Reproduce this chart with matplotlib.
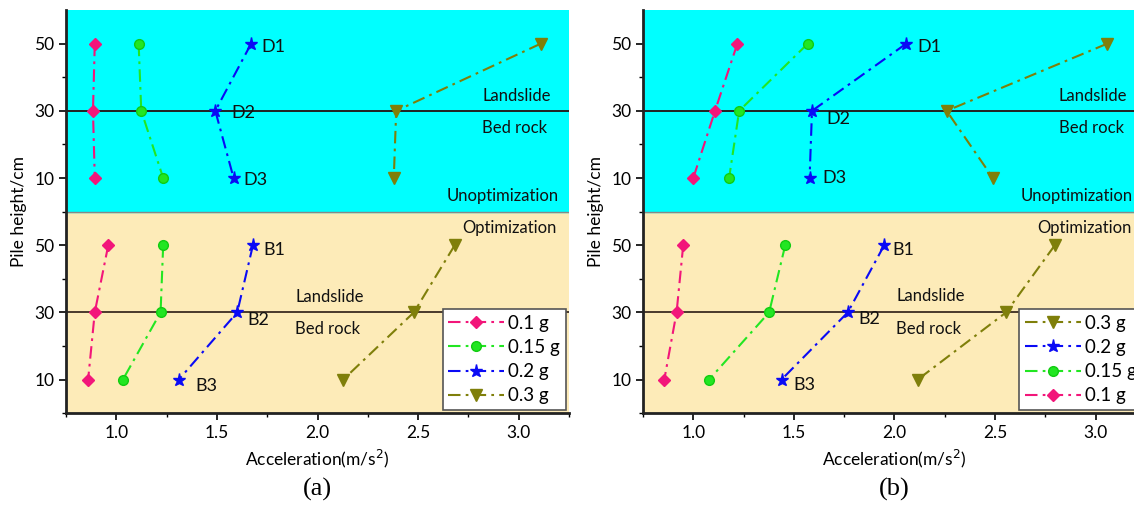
import numpy as np
import matplotlib.pyplot as plt
from matplotlib.ticker import FixedLocator, MultipleLocator

plt.rcParams['font.family'] = ['Lato', 'DejaVu Sans']

# pile heights (cm), same for every series
heights = [50, 30, 10]
labels_g = ['0.1 g', '0.15 g', '0.2 g', '0.3 g']

# panel (a) accelerations, m/s2 (order: 50, 30, 10 cm)
a_unopt = {
    '0.1 g': [0.893, 0.884, 0.893],
    '0.15 g': [1.111, 1.124, 1.233],
    '0.2 g': [1.670, 1.492, 1.583],
    '0.3 g': [3.109, 2.391, 2.379],
}
a_opt = {
    '0.1 g': [0.960, 0.893, 0.860],
    '0.15 g': [1.233, 1.220, 1.033],
    '0.2 g': [1.679, 1.601, 1.311],
    '0.3 g': [2.682, 2.479, 2.128],
}
# panel (b)
b_unopt = {
    '0.1 g': [1.219, 1.108, 1.000],
    '0.15 g': [1.569, 1.228, 1.178],
    '0.2 g': [2.058, 1.590, 1.578],
    '0.3 g': [3.057, 2.259, 2.489],
}
b_opt = {
    '0.1 g': [0.950, 0.917, 0.856],
    '0.15 g': [1.457, 1.377, 1.079],
    '0.2 g': [1.949, 1.768, 1.439],
    '0.3 g': [2.797, 2.555, 2.116],
}

styles = {
    '0.1 g': dict(color='#F2167A', marker='D', ms=6.5),
    '0.15 g': dict(color='#22E622', marker='o', ms=7, mec='#11CC11'),
    '0.2 g': dict(color='#0A0AF5', marker='*', ms=9.5),
    '0.3 g': dict(color='#7F7F0A', marker='v', ms=8),
}
dash = (0, (6, 2.5, 1.3, 2.5))
off = 60  # top block (unoptimization) drawn shifted up


def panel(ax, unopt, opt, txt, region_txt, leg_order, letter):
    ax.axhspan(0, 60, color='#FDEBB8', zorder=0)
    ax.axhspan(60, 120, color='#00FFFF', zorder=0)
    ax.axhline(60, color='#888888', lw=1, zorder=1)
    ax.axhline(90, color='#222222', lw=1.4, zorder=1)
    ax.axhline(30, color='#4a3a2c', lw=1.4, zorder=1)

    handles = {}
    for g in labels_g:
        st = styles[g]
        ax.plot(unopt[g], np.array(heights) + off, ls=dash, lw=1.5, zorder=3, **st)
        h, = ax.plot(opt[g], heights, ls=dash, lw=1.5, zorder=3, label=g, **st)
        handles[g] = h

    for s, x, y in txt:
        ax.text(x, y, s, fontsize=13, va='center', ha='left', color='#111111')
    for s, x, y in region_txt:
        ax.text(x, y, s, fontsize=12, va='center', ha='center', color='#111111')

    leg = ax.legend([handles[g] for g in leg_order], leg_order, loc='lower right',
                    bbox_to_anchor=(0.993, 0.008), fontsize=13.5, frameon=True,
                    fancybox=False, edgecolor='#555555', framealpha=1,
                    handlelength=3.0, handletextpad=0.2, borderpad=0.3,
                    labelspacing=0.38, borderaxespad=0)
    leg.get_frame().set_linewidth(1.2)

    ax.set_xlim(0.75, 3.25)
    ax.set_ylim(0, 120)
    ax.xaxis.set_major_locator(MultipleLocator(0.5))
    ax.xaxis.set_minor_locator(MultipleLocator(0.25))
    ax.yaxis.set_major_locator(FixedLocator([10, 30, 50, 70, 90, 110]))
    ax.set_yticklabels(['10', '30', '50', '10', '30', '50'])
    ax.yaxis.set_minor_locator(FixedLocator([0, 20, 40, 60, 80, 100]))
    ax.tick_params(which='major', length=5, width=1.2, labelsize=12.5)
    ax.tick_params(which='minor', length=3, width=1)
    for sp in ['top', 'right']:
        ax.spines[sp].set_visible(False)
    for sp in ['left', 'bottom']:
        ax.spines[sp].set_linewidth(2)
        ax.spines[sp].set_color('#222222')
    ax.set_xlabel('Acceleration(m/s$^2$)', fontsize=12.5, labelpad=5)
    ax.set_ylabel('Pile height/cm', fontsize=12.5, labelpad=5)
    ax.text(0.5, -0.19, letter, transform=ax.transAxes, ha='center', va='center',
            fontsize=19, family='Liberation Serif')


fig = plt.figure(figsize=(11.34, 5.05), dpi=100)
ax1 = fig.add_axes([0.0582, 0.182, 0.4436, 0.798])
ax2 = fig.add_axes([0.567, 0.182, 0.4436, 0.798])

txt_a = [('D1', 1.72, 109), ('D2', 1.574, 89.5), ('D3', 1.634, 69.5),
         ('B1', 1.732, 48.5), ('B2', 1.652, 27.6), ('B3', 1.392, 8)]
txt_b = [('D1', 2.116, 109), ('D2', 1.662, 87.6), ('D3', 1.644, 70),
         ('B1', 1.987, 48.5), ('B2', 1.82, 28), ('B3', 1.497, 8.5)]

region_a = [('Landslide', 2.99, 94.5), ('Bed rock', 2.98, 85),
            ('Unoptimization', 2.92, 64.5), ('Optimization', 2.956, 55),
            ('Landslide', 2.06, 34.6), ('Bed rock', 2.05, 25)]
region_b = [('Landslide', 2.986, 94.5), ('Bed rock', 2.978, 85),
            ('Unoptimization', 2.905, 64.5), ('Optimization', 2.945, 55),
            ('Landslide', 2.18, 34.8), ('Bed rock', 2.17, 25)]

panel(ax1, a_unopt, a_opt, txt_a, region_a, labels_g, '(a)')
panel(ax2, b_unopt, b_opt, txt_b, region_b, labels_g[::-1], '(b)')

fig.savefig('out.png', dpi=100)
